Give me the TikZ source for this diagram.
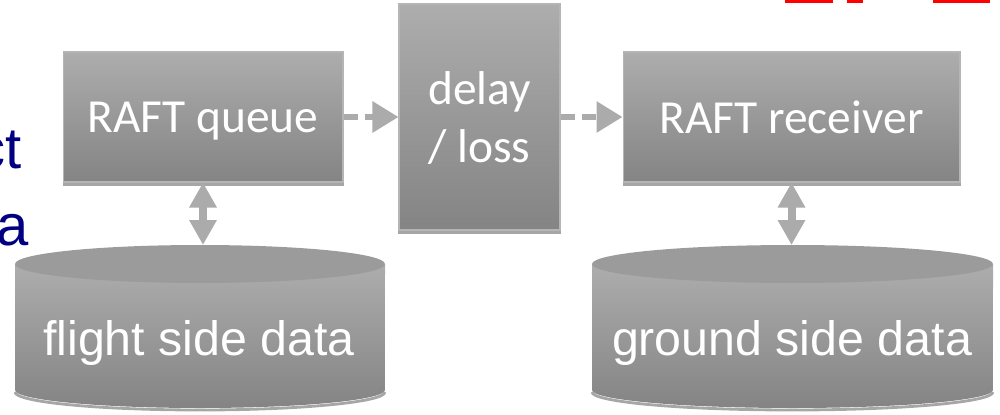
\documentclass[tikz,border=0pt]{standalone}
\usepackage{fontspec}
\usetikzlibrary{positioning,arrows.meta,calc}
\newfontfamily\calibri{Carlito}
\newfontfamily\arial{Liberation Sans}
\definecolor{boxtop}{HTML}{ADADAD}
\definecolor{boxbottom}{HTML}{848484}
\definecolor{lid}{HTML}{9B9B9B}
\definecolor{flowgray}{HTML}{ABABAB}
\definecolor{rim}{HTML}{B5B5B5}
\definecolor{navy}{HTML}{000080}
\definecolor{logored}{HTML}{FF0000}
\tikzset{
  block/.style={top color=boxtop, bottom color=boxbottom, draw=rim, line width=0.6pt,
    text=white, font=\calibri\fontsize{27}{33}\selectfont, align=center, inner sep=0pt,
    text depth=0pt},
  dropline/.style={draw=gray!70, line width=1.6pt},
  flow/.style={draw=flowgray, line width=0.12cm, dash pattern=on 0.28cm off 0.14cm,
    -{Triangle[length=0.52cm,width=0.6cm]}},
  link/.style={draw=flowgray, line width=0.16cm,
    {Triangle[length=0.5cm,width=0.52cm]}-{Triangle[length=0.5cm,width=0.52cm]}},
  dblabel/.style={text=white, font=\arial\fontsize{27.5}{33}\selectfont, anchor=base, inner sep=0pt},
  cuttext/.style={text=navy, font=\arial\fontsize{33}{40}\selectfont, anchor=base east, inner sep=0pt}
}
\begin{document}
\begin{tikzpicture}[x=0.02cm, y=0.02cm]
    \useasboundingbox (0,0) rectangle (1000,414);
    \clip (0,0) rectangle (1000,414);

    % Slide text cut off at the left edge
    \node[cuttext] (cutct) at (22,246) {ct};
    \node[cuttext] (cuta) at (29,169) {a};

    % Logo cut off at the top edge
    \foreach \xa/\xb in {785/833, 847/863, 933/990}
        \fill[logored] (\xa,411) rectangle (\xb,414);

    % Flight side cylinder
    \shade[top color=boxtop, bottom color=boxbottom] (15,150) -- (15,24)
        arc[start angle=180, end angle=360, x radius=3.7cm, y radius=0.36cm] -- (385,150) -- cycle;
    \draw[dropline] (15,22) arc[start angle=180, end angle=360, x radius=3.7cm, y radius=0.36cm];
    \fill[lid] (200,150) ellipse[x radius=3.7cm, y radius=0.38cm];
    \coordinate (flighttop) at (200,169);
    \node[dblabel] (flightdata) at (199,59) {flight side data};

    % Ground side cylinder
    \shade[top color=boxtop, bottom color=boxbottom] (592,150) -- (592,24)
        arc[start angle=180, end angle=360, x radius=4.01cm, y radius=0.36cm] -- (993,150) -- cycle;
    \draw[dropline] (592,22) arc[start angle=180, end angle=360, x radius=4.01cm, y radius=0.36cm];
    \fill[lid] (792.5,150) ellipse[x radius=4.01cm, y radius=0.38cm];
    \coordinate (groundtop) at (792.5,169);
    \node[dblabel] (grounddata) at (792,59) {ground side data};

    % Blocks
    \node[block, minimum width=5.6cm, minimum height=2.6cm] (queue) at (203,297) {RAFT queue};
    \node[block, minimum width=3.22cm, minimum height=4.52cm] (delay) at (479.5,297) {delay\\/ loss};
    \node[block, minimum width=6.74cm, minimum height=2.6cm] (receiver) at (791.5,297) {RAFT receiver};
    \draw[dropline] ([yshift=-1pt]queue.south west) -- ([yshift=-1pt]queue.south east);
    \draw[dropline] ([yshift=-1pt]delay.south west) -- ([yshift=-1pt]delay.south east);
    \draw[dropline] ([yshift=-1pt]receiver.south west) -- ([yshift=-1pt]receiver.south east);

    % Connectors
    \draw[flow] (queue.east) -- (delay.west);
    \draw[flow] (delay.east) -- (receiver.west);
    \draw[link] (queue.south) -- (queue.south |- flighttop);
    \draw[link] (receiver.south) -- (receiver.south |- groundtop);
\end{tikzpicture}
\end{document}
